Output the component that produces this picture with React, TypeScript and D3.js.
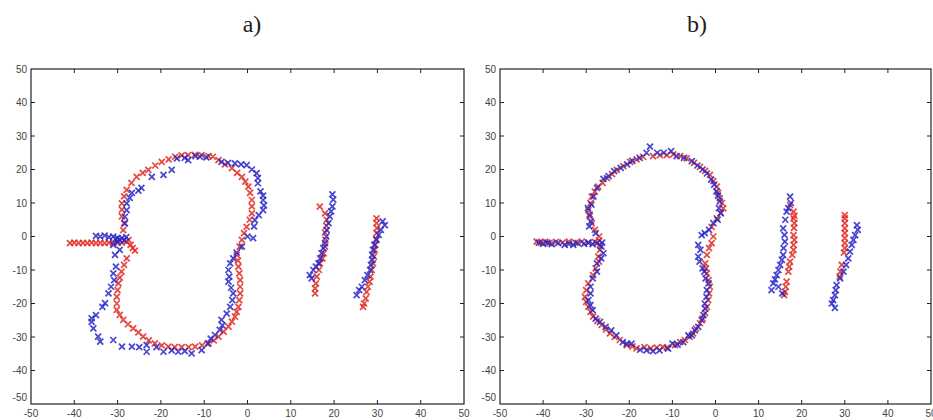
import React, { useEffect, useRef } from 'react';
import * as d3 from 'd3';

// axis ticks (same for x and y)
const tickValues = [-50, -40, -30, -20, -10, 0, 10, 20, 30, 40, 50];

// panel a) - red points
const redA = [
  [-41, -2], [-40, -1.8], [-39, -2], [-38, -1.9], [-37, -2], [-36, -1.8], [-35, -2], [-34, -1.9],
  [-33, -2], [-32, -1.8], [-31, -2], [-30, -1.9], [-29, -1.8], [-28, -1.5], [-27.5, -1], [-27, -2.5],
  [-26.5, -3.5], [-26, -4.2],
  [-28.7, 1.9], [-28.5, 4], [-29, 6], [-29, 8], [-29, 9.9], [-28.5, 12], [-27.9, 13.9], [-26.8, 16],
  [-25.6, 17.8], [-24.2, 19], [-22.9, 19.9], [-21.3, 21.2], [-19.8, 22.3], [-18.2, 23], [-16.7, 23.8],
  [-15.2, 24.2], [-13.7, 24.3], [-12.2, 24.4], [-10.6, 24.3], [-9, 24], [-8, 23.8], [-6.7, 22.8],
  [-5.2, 21.5], [-3.6, 20.4], [-2.4, 19], [-1.3, 17.8], [-0.5, 16.4], [0.2, 14.9], [0.6, 13], [1, 10.9],
  [1, 9], [1, 6.9], [0.5, 5], [-0.2, 2.9], [-0.8, 1], [-1.3, -1], [-1.8, -3], [-2.5, -5.5], [-2.2, -7.2],
  [-2.1, -9], [-1.9, -11], [-1.7, -13], [-1.7, -15], [-1.7, -17], [-1.9, -19], [-2.1, -21], [-2.5, -22.5],
  [-2.9, -23.9], [-3.6, -25.4], [-4.4, -26.9], [-5.5, -28.4], [-6.7, -29.9], [-7.8, -31], [-9, -31.9],
  [-10.5, -32.5], [-12.1, -32.9], [-13.6, -33], [-15.2, -33], [-16.8, -33], [-18.3, -32.9], [-19.8, -32.5],
  [-21.4, -31.9], [-22.8, -31], [-24.1, -29.9], [-25.2, -28.6], [-26.4, -27.4], [-27.6, -26.2],
  [-28.7, -24.9], [-29.5, -23.4], [-30.2, -21.9], [-30.2, -20], [-30.2, -18], [-30, -16], [-29.8, -14],
  [-29.5, -12.3], [-29.1, -10.5], [-28.5, -8.5], [-27.9, -6.5],
  [16.7, 8.9], [17.9, 6.9], [18.3, 5], [18.2, 3.2], [17.9, 1.2], [18, -1], [17.9, -3], [17.6, -5],
  [17.3, -6.5], [16.7, -8], [16.5, -10], [16, -12], [15.8, -14], [15.6, -15.5], [15.6, -17],
  [29.8, 5.4], [29.8, 4], [29.9, 2.5], [29.8, 1], [29.7, -0.8], [29.5, -2.5], [29.4, -4], [29.2, -6],
  [29, -8], [28.7, -10], [28.4, -12], [28.2, -13.5], [27.8, -15], [27.5, -16.5], [27.3, -18.5],
  [26.9, -20], [26.7, -21],
];

// panel a) - blue points
const blueA = [
  [-35, 0.2], [-34, 0], [-33, 0.3], [-32, -0.2], [-31, 0], [-30.5, -0.8], [-30, -0.5], [-29.5, -1],
  [-29, -0.5], [-28.5, -1.2], [-28, -0.2], [-30, -1.5], [-31, -2.5],
  [-28.3, 3.9], [-28.3, 5.9], [-27.9, 7.9], [-27.9, 9.9], [-27.2, 11.5], [-26.7, 13], [-25.2, 13.7],
  [-24.5, 14.5], [-22.1, 17.8], [-19.4, 18.4], [-17.5, 19.9], [-16.3, 23.3], [-14.5, 23.5], [-13.7, 22.8],
  [-12, 24], [-11, 23.8], [-9.5, 23.6], [-6, 22.3], [-4.5, 22], [-2.9, 21.8], [-1.5, 21.5], [-0.2, 21.3],
  [1, 20], [2.1, 18.9], [2.4, 17.4], [2.4, 15.9], [3, 13.5], [3.6, 12.2], [3.6, 10.9], [3.8, 9.3],
  [3.6, 7.9], [2.6, 6.4], [1.7, 4.9], [1.5, 3], [1.3, -0.5], [0, 0], [-1.3, -3], [-2.5, -4.8], [-3.3, -6.5],
  [-4, -8], [-4.4, -10], [-4.2, -12], [-4.4, -13.5], [-3.8, -15.3], [-3.3, -17], [-3.5, -19], [-4, -21],
  [-4.8, -23], [-6, -24.9], [-5.8, -26.5], [-6.4, -27.9], [-7.5, -29.4], [-8.5, -30.5], [-9.2, -32],
  [-10.6, -33.9], [-12.9, -34.9], [-14.5, -34.2], [-16, -34.4], [-17.5, -34], [-19.4, -34.4], [-21, -33],
  [-23.3, -34.4], [-23.3, -32.4], [-25, -33], [-26.7, -32.9], [-29, -32.9], [-31, -30.9], [-34, -31.4],
  [-34.5, -29.9], [-35.6, -27.4], [-36, -25.5], [-36, -24.4], [-35, -23.5], [-33.5, -21], [-32.9, -19.9],
  [-32.1, -17], [-31.5, -15], [-30.8, -13], [-31, -11], [-30.4, -9], [-30.6, -5.5], [-29.5, -4],
  [19.6, 12.6], [19.8, 11], [19.6, 9], [19.3, 7.5], [19, 6], [18.7, 4], [18.3, 1.9], [18.2, 0],
  [17.9, -2], [17.5, -3.5], [17.1, -5], [16.8, -6.5], [16.4, -8], [15.8, -9], [15.2, -10], [14.4, -11.5],
  [14.8, -12.5],
  [31.7, 3.4], [31.2, 4.5], [30.8, 2], [30.3, 0.5], [29.8, -1], [29.3, -2.5], [29, -4], [28.8, -5.5],
  [28.8, -7], [28.5, -8.5], [28.3, -10], [27.7, -11.5], [27.1, -13], [26.4, -15], [25.8, -16], [25.2, -17.5],
];

// panel b) - red points
const redB = [
  [-41.5, -1.5], [-40.5, -1.8], [-39.5, -1.5], [-38.5, -2], [-37, -1.6], [-35.5, -1.8], [-34, -1.5],
  [-32.5, -1.8], [-31, -1.5], [-29.5, -1.8], [-28, -1.6], [-27, -1.2], [-26.8, -2.5],
  [-26.8, -4], [-27.2, -6], [-27, -7.5], [-27.8, -9.5], [-28.4, -11.5], [-29.5, -14], [-30, -16],
  [-30.3, -18], [-30, -19.5], [-29.5, -21], [-29, -22.5], [-28.4, -23.9], [-27.4, -25.2], [-26.4, -26.4],
  [-25.4, -27.7], [-24.5, -28.9], [-23.4, -30], [-22.2, -30.9], [-20.6, -32.4], [-19.3, -32.8],
  [-18.3, -33.4], [-16.5, -33], [-15, -33.4], [-13.6, -33.2], [-12.2, -33], [-11.3, -33.2], [-9.4, -32.4],
  [-8.2, -31.5], [-7.1, -30.9], [-6, -30], [-5.2, -28.9], [-4.5, -27.5], [-3.6, -25.9], [-3, -24.5],
  [-2.4, -22.9], [-2, -21], [-1.7, -19], [-1.5, -17], [-1.3, -15], [-1.6, -13], [-2, -11], [-2.2, -9.5],
  [-2.4, -8], [-2, -5.5], [-1.5, -3.5], [-0.9, -2], [-0.5, 0], [-0.9, 2.9], [0.3, 5.4], [1.2, 7],
  [1.8, 8.4], [1.5, 10], [1, 11.4], [0.6, 13], [0.3, 14.9], [-0.5, 16.5], [-1.3, 18.4], [-2.4, 19.6],
  [-3.6, 20.8], [-5, 22], [-6.7, 23.3], [-8.2, 24], [-9.8, 24.5], [-11.3, 24.3], [-12.9, 24.3],
  [-14.5, 24], [-16.8, 23.8], [-18.3, 23], [-19.8, 22.3], [-21.4, 21], [-22.9, 19.9], [-24, 18.6],
  [-25.2, 17.4], [-26.2, 16], [-27.2, 14.9], [-28, 13.4], [-28.7, 11.9], [-29, 10], [-29.5, 7.9],
  [-29.2, 6], [-28.7, 3.9], [-28, 2], [-27, 0],
  [17.3, 9.4], [18.1, 7.4], [18.3, 6.2], [18.1, 5.4], [18.3, 4], [18.2, 2.6], [18.1, 0.4], [18.3, -1],
  [18.1, -2.5], [18.1, -4], [17.8, -5.5], [17.3, -7.5], [17.1, -9], [16.9, -10.5], [16.5, -13.5],
  [16.3, -15], [16.1, -16.5], [15.9, -17.5],
  [30, 6.4], [30, 5.4], [30, 4], [30, 2.4], [30, 1], [30, -0.5], [30, -2], [30, -3.5], [29.8, -4.8],
  [29.3, -8.5], [29, -10.5], [28.8, -12],
];

// panel b) - blue points
const blueB = [
  [-41, -1.8], [-40, -2.2], [-39, -1.8], [-38, -2.3], [-36.5, -2], [-35, -2.5], [-34, -2.2], [-33, -2.5],
  [-32, -2], [-30.5, -2.2], [-29.5, -1.8], [-28.5, -2.3], [-27.5, -2],
  [-26.5, -3], [-26, -5], [-26.5, -6.5], [-27.5, -8], [-27.5, -10.5], [-28.5, -12.5], [-29, -15],
  [-29, -17], [-29.5, -19], [-29, -20.5], [-28.5, -22], [-27.8, -24.5], [-26.8, -25.5], [-25.5, -27],
  [-24.2, -28], [-23, -29.5], [-21.5, -31.5], [-20.6, -32], [-19.5, -32], [-17.5, -33.8], [-16, -34],
  [-14.5, -34.2], [-13, -34], [-11, -33.5], [-10, -32], [-8.8, -32.3], [-7.5, -31.5], [-6.3, -29.5],
  [-5.5, -29.5], [-4.8, -28], [-4, -27], [-3.2, -25], [-2.8, -23.5], [-2.4, -21.5], [-2.5, -20],
  [-2.1, -18], [-2, -16], [-1.6, -14], [-2.3, -12.5], [-2.6, -10.5], [-3, -9.5], [-3.7, -7.5], [-4, -6],
  [-3.5, -4], [-4, -2.5], [-3.2, 0.4], [-2.5, 1], [-1.5, 2], [-0.5, 4], [0.5, 5], [1.2, 7], [0.8, 8.5],
  [1, 10.5], [0.6, 12.2], [0.2, 13.5], [-0.3, 15.5], [-1, 17], [-2, 18.8], [-3, 20], [-4.2, 21.2],
  [-5.5, 22.5], [-7.3, 23.5], [-9, 24], [-10.3, 25.5], [-12, 25], [-13.5, 25], [-15.2, 26.8], [-16, 25],
  [-17.6, 23.5], [-19.3, 22.6], [-20.5, 21.5], [-22, 20.5], [-23.5, 19.5], [-24.8, 18], [-26, 17.2],
  [-27.5, 14.5], [-28.3, 12], [-28.8, 9.5], [-29.6, 8.5], [-29.2, 6.5], [-28.9, 4.5], [-29.3, 3],
  [-27.8, 1], [-26.3, -1.8],
  [17.3, 11.9], [17.5, 10], [16.9, 8.5], [16.5, 7.4], [16.2, 5], [15.7, 2.4], [16, 0.5], [16.1, -1.5],
  [15.8, -3.5], [15.7, -5.5], [15.4, -7], [15, -8.5], [14.6, -10], [14.2, -11.5], [13.8, -12.8],
  [13.4, -14], [13, -16], [14.6, -15], [15.5, -17],
  [32.8, 3.4], [33, 2], [32.4, 0.4], [32, -1], [31.6, -2.5], [31.2, -4.5], [30.8, -6.5], [30.3, -8.5],
  [29.7, -10.5], [28.9, -12.5], [28.1, -14.5], [27.9, -16], [27.7, -17.5], [27.3, -19], [27, -20],
  [27.7, -21.3],
];

const panels = [
  { title: 'a)', left: 31, right: 464, titleX: 252, red: redA, blue: blueA },
  { title: 'b)', left: 500, right: 931, titleX: 697, red: redB, blue: blueB },
];

const W = 933;
const H = 420;
const top = 69;
const bottom = 404;

const crossPath = (x, y, s) => `M${x - s},${y - s}L${x + s},${y + s}M${x - s},${y + s}L${x + s},${y - s}`;

const App = () => {
  const svgRef = useRef(null);

  useEffect(() => {
    const svg = d3.select(svgRef.current);
    svg.selectAll('*').remove();

    svg.append('rect').attr('width', W).attr('height', H).attr('fill', '#fff');

    panels.forEach(p => {
      const x = d3.scaleLinear().domain([-50, 50]).range([p.left, p.right]);
      const y = d3.scaleLinear().domain([-50, 50]).range([bottom, top]);
      const g = svg.append('g');

      g.append('text')
        .attr('x', p.titleX).attr('y', 32)
        .attr('text-anchor', 'middle')
        .attr('font-family', '"Liberation Serif", "DejaVu Serif", serif')
        .attr('font-size', 24)
        .attr('fill', '#222')
        .text(p.title);

      // points: red first, blue on top
      const drawSeries = (pts, color) => {
        g.append('g').selectAll('path')
          .data(pts)
          .enter()
          .append('path')
          .attr('d', d => crossPath(x(d[0]), y(d[1]), 3))
          .attr('stroke', color)
          .attr('stroke-width', 1.7)
          .attr('stroke-opacity', 0.85)
          .attr('fill', 'none');
      };
      drawSeries(p.red, '#e0281e');
      drawSeries(p.blue, '#2626c8');

      // box
      g.append('rect')
        .attr('x', p.left).attr('y', top)
        .attr('width', p.right - p.left).attr('height', bottom - top)
        .attr('fill', 'none').attr('stroke', '#222').attr('stroke-width', 1.2);

      const tl = 4;
      const inner = tickValues.slice(1, -1);
      inner.forEach(t => {
        g.append('line').attr('x1', x(t)).attr('x2', x(t)).attr('y1', bottom).attr('y2', bottom - tl)
          .attr('stroke', '#222');
        g.append('line').attr('x1', x(t)).attr('x2', x(t)).attr('y1', top).attr('y2', top + tl)
          .attr('stroke', '#222');
        g.append('line').attr('y1', y(t)).attr('y2', y(t)).attr('x1', p.left).attr('x2', p.left + tl)
          .attr('stroke', '#222');
        g.append('line').attr('y1', y(t)).attr('y2', y(t)).attr('x1', p.right).attr('x2', p.right - tl)
          .attr('stroke', '#222');
      });

      const labelFont = '"Liberation Sans", Arial, sans-serif';
      g.append('g').selectAll('text')
        .data(tickValues)
        .enter()
        .append('text')
        .attr('x', d => x(d))
        .attr('y', bottom + 13)
        .attr('text-anchor', 'middle')
        .attr('font-family', labelFont)
        .attr('font-size', 10)
        .attr('fill', '#444')
        .text(d => d);

      g.append('g').selectAll('text')
        .data(tickValues)
        .enter()
        .append('text')
        .attr('x', p.left - 4)
        .attr('y', d => y(d) + (d === -50 ? -3 : 3.5))
        .attr('text-anchor', 'end')
        .attr('font-family', labelFont)
        .attr('font-size', 10)
        .attr('fill', '#444')
        .text(d => d);
    });
  }, []);

  return (
    <svg ref={svgRef} width={W} height={H} style={{ position: 'absolute', left: 0, top: 0 }}></svg>
  );
};

export default App;
